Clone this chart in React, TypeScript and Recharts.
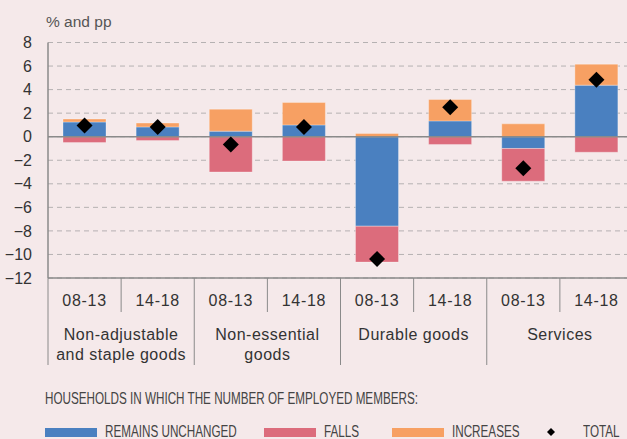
import { ComposedChart, Bar, Line, XAxis, YAxis, CartesianGrid, ReferenceLine } from "recharts";

const categories = ["08-13", "14-18", "08-13", "14-18", "08-13", "14-18", "08-13", "14-18"];
const groups = [
  ["Non-adjustable", "and staple goods"],
  ["Non-essential", "goods"],
  ["Durable goods"],
  ["Services"],
];
const remainsUnchanged = [1.25, 0.83, 0.47, 1.0, -7.6, 1.34, -1.0, 4.38];
const falls = [-0.5, -0.33, -3.0, -2.07, -3.05, -0.66, -2.78, -1.32];
const increases = [0.25, 0.33, 1.87, 1.9, 0.27, 1.82, 1.09, 1.78];
const total = [0.95, 0.83, -0.66, 0.83, -10.38, 2.5, -2.69, 4.84];
const yTicks = [8, 6, 4, 2, 0, -2, -4, -6, -8, -10, -12];

const BLUE = "#4a80c0";
const RED = "#dc6c7c";
const ORANGE = "#f7a063";
const BG = "#f5e9ea";
const AXIS = "#8a8a8a";
const FONT = "'Liberation Sans', Arial, sans-serif";

const data = categories.map((c, i) => ({
  key: String(i),
  period: c,
  unchanged: remainsUnchanged[i],
  falls: falls[i],
  increases: increases[i],
  total: total[i],
}));

const CHART_W = 633;
const CHART_H = 439;
const PLOT_LEFT = 48;
const BAND = (CHART_W - PLOT_LEFT) / categories.length;

// eslint-disable-next-line @typescript-eslint/no-explicit-any
function CategoryTick({ x, y, payload, index }: any) {
  const half = payload?.offset || BAND / 2;
  const i = index ?? Number(payload.value);
  const left = x - half;
  const isGroupStart = i % 2 === 0;
  const group = groups[Math.floor(i / 2)];
  return (
    <g>
      <line x1={left} x2={left} y1={y} y2={isGroupStart ? y + 87 : y + 34} stroke={AXIS} strokeWidth={1} />
      <text x={x} y={y + 28} textAnchor="middle" fill="#333" fontSize={16} letterSpacing={0.7} fontFamily={FONT}>
        {categories[i]}
      </text>
      {!isGroupStart &&
        group.map((line, k) => (
          <text key={k} x={left} y={y + 61.5 + k * 20.5} textAnchor="middle" fill="#333" fontSize={16} letterSpacing={0.5} fontFamily={FONT}>
            {line}
          </text>
        ))}
    </g>
  );
}

// eslint-disable-next-line @typescript-eslint/no-explicit-any
function Diamond({ cx, cy }: any) {
  if (cx == null || cy == null) return null;
  const r = 8;
  return <polygon points={`${cx},${cy - r} ${cx + r},${cy} ${cx},${cy + r} ${cx - r},${cy}`} fill="#000" />;
}

const formatY = (v: number) => (v < 0 ? `\u2212${Math.abs(v)}` : String(v));

const legendItems = [
  { label: "REMAINS UNCHANGED", color: BLUE, x: 45 },
  { label: "FALLS", color: RED, x: 264 },
  { label: "INCREASES", color: ORANGE, x: 392 },
];

const condensed = {
  position: "absolute" as const,
  fontSize: 16,
  color: "#444",
  whiteSpace: "nowrap" as const,
  transform: "scaleX(0.73)",
  transformOrigin: "left center",
  lineHeight: "18px",
};

export default function App() {
  return (
    <div
      style={{
        position: "fixed",
        left: 0,
        top: 0,
        width: 627,
        height: 439,
        overflow: "hidden",
        background: BG,
        fontFamily: FONT,
      }}
    >
      <div style={{ position: "absolute", left: 46, top: 13, fontSize: 15.5, color: "#555", lineHeight: "18px" }}>% and pp</div>
      <div style={{ position: "absolute", left: 0, top: 0 }}>
        <ComposedChart
          width={CHART_W}
          height={CHART_H}
          data={data}
          stackOffset="sign"
          margin={{ top: 42.5, right: 0, bottom: 0, left: 0 }}
        >
          <CartesianGrid vertical={false} stroke="#b5b1b2" strokeDasharray="5 4" />
          <XAxis
            dataKey="key"
            height={161}
            axisLine={{ stroke: AXIS, strokeWidth: 1.5 }}
            tickLine={false}
            tickSize={0}
            tickMargin={0}
            interval={0}
            tick={<CategoryTick />}
          />
          <YAxis
            width={PLOT_LEFT}
            domain={[-12, 8]}
            ticks={yTicks}
            interval={0}
            axisLine={{ stroke: AXIS, strokeWidth: 1.5 }}
            tickLine={false}
            tickSize={6}
            tickMargin={10}
            tickFormatter={formatY}
            tick={{ fill: "#333", fontSize: 16, fontFamily: FONT }}
          />
          <Bar dataKey="unchanged" stackId="a" fill={BLUE} stroke="rgba(255,255,255,0.3)" barSize={43} isAnimationActive={false} />
          <Bar dataKey="falls" stackId="a" fill={RED} stroke="rgba(255,255,255,0.3)" barSize={43} isAnimationActive={false} />
          <Bar dataKey="increases" stackId="a" fill={ORANGE} stroke="rgba(255,255,255,0.3)" barSize={43} isAnimationActive={false} />
          <ReferenceLine y={0} stroke={AXIS} strokeWidth={1.5} />
          <Line
            dataKey="total"
            stroke="none"
            dot={<Diamond />}
            activeDot={false}
            legendType="none"
            isAnimationActive={false}
          />
        </ComposedChart>
      </div>
      <div style={{ ...condensed, left: 45, top: 390 }}>HOUSEHOLDS IN WHICH THE NUMBER OF EMPLOYED MEMBERS:</div>
      {legendItems.map((it) => (
        <div key={it.label}>
          <div style={{ position: "absolute", left: it.x, top: 428, width: 52, height: 9, background: it.color }} />
          <div style={{ ...condensed, left: it.x + 60, top: 423 }}>{it.label}</div>
        </div>
      ))}
      <svg width={8} height={8} style={{ position: "absolute", left: 547, top: 428, display: "block" }}>
        <polygon points="4,0 8,4 4,8 0,4" fill="#000" />
      </svg>
      <div style={{ ...condensed, left: 583, top: 423 }}>TOTAL</div>
    </div>
  );
}
